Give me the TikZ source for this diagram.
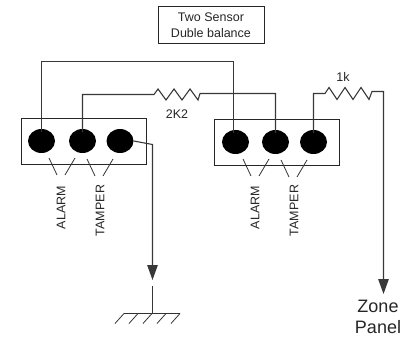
\documentclass[tikz,border=0pt]{standalone}
\usepackage{fontspec}
\setmainfont{Liberation Sans}
\usetikzlibrary{calc}
\usetikzlibrary{arrows.meta}
\usetikzlibrary{shapes.geometric}
\definecolor{wire}{gray}{0.22}
\tikzset{
  contact/.style={draw=none, fill=black, shape=ellipse, minimum width=27, minimum height=24, inner sep=0},
  panel/.style={draw=black!85, line width=.9, rectangle, inner sep=0, anchor=north west},
  conn/.style={wire, line width=1.1},
  lead/.style={black!80, line width=.8},
  legend/.style={font=\fontsize{12.5}{16}\selectfont, text=black!85, inner sep=0},
  flow/.style={conn, -{Triangle[length=15, width=10.5]}}
}
\begin{document}
\begin{tikzpicture} [x=1pt, y=-1pt]
\useasboundingbox (0,0) rectangle (404,339);

\node[panel, legend, minimum width=106, minimum height=37, align=center] (title) at (157.5,6.5) {Two Sensor\\Duble balance};

\node[panel, minimum width=125, minimum height=46] (boxL) at (20.5,118.5) {};
\node[panel, minimum width=125, minimum height=46] (boxR) at (213.5,119.5) {};

\foreach \name/\x in {a/41.5, b/82.5, c/120} \node[contact] (\name L) at (\x,141) {};
\foreach \name/\x in {a/235.5, b/275.5, c/313.5} \node[contact] (\name R) at (\x,142) {};

% short strokes under the contacts
\foreach \xa/\xb/\ya/\yb in {49/57/158/175, 75/65/158/175, 87/95/159/176, 113/103/159/176, 243/251/159/176, 269/259/159/176, 281/289/160/177, 307/297/160/177} \draw[lead] (\xa,\ya)--(\xb,\yb);

\node[legend, rotate=90] (alarmL) at (61,207.5) {ALARM};
\node[legend, rotate=90] (tamperL) at (100,210.5) {TAMPER};
\node[legend, rotate=90] (alarmR) at (255,207.5) {ALARM};
\node[legend, rotate=90] (tamperR) at (294,210.5) {TAMPER};

% wires
\draw[conn] (aL.north)++(0,3) |- (233.5,61.5) -- ($(aR.north)+(-2,3)$);

\coordinate (rA) at (154,94.5);
\coordinate (rB) at (200,93.5);
\draw[conn] (bL.north)++(0,3) |- (rA) -- ++(4,-5.5) -- ++(8,11) -- ++(8,-11) -- ++(8,11) -- ++(8,-11) -- ++(8,11) -- (rB) -- (275.5,93.5) -- ($(bR.north)+(0,3)$);
\node[legend] (twoK) at (177,114) {2K2};

\coordinate (rC) at (325,93.5);
\coordinate (zone) at (383.5,294);
\draw[flow] (cR.north)++(0,3) |- (rC) -- ++(4,-6) -- ++(8,12) -- ++(8,-12) -- ++(8,12) -- ++(8,-12) -- ++(8,12) -- (372,91.5) -- (383.5,91.5) -- (zone);
\node[legend] (oneK) at (343,77) {1k};

\coordinate (gndTip) at (152.5,280);
\draw[flow] (cL.east) -- (152.5,144.5) -- (gndTip);

% ground
\coordinate (gndTop) at (152.5,286);
\coordinate (gndBar) at (152.5,313.5);
\draw[conn] (gndTop) -- (gndBar);
\draw[lead] (124,313.5) -- (180,313.5);
\foreach \x in {124, 138, 152, 166, 180} \draw[lead] (\x,313.5) --++(-9,10);

\node[align=center, font=\fontsize{18}{20.5}\selectfont, text=black!85, inner sep=0] (panelText) at (378,317) {Zone\\Panel};

\end{tikzpicture}
\end{document}
